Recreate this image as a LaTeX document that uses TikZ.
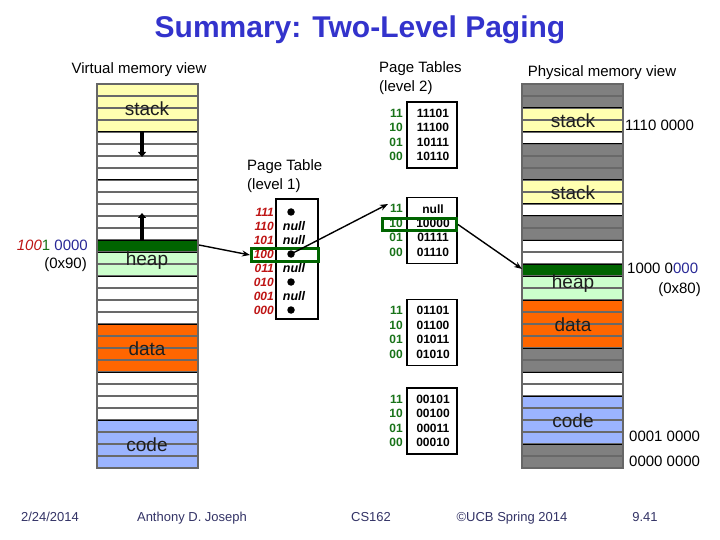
\documentclass[tikz,border=0pt]{standalone}
\usepackage{fontspec}
\setmainfont{Liberation Sans}
\usetikzlibrary{arrows.meta}
\definecolor{titleblue}{RGB}{51,51,204}
\definecolor{memyellow}{RGB}{255,255,176}
\definecolor{memltgreen}{RGB}{204,255,204}
\definecolor{memdkgreen}{RGB}{0,100,0}
\definecolor{memorange}{RGB}{255,102,0}
\definecolor{memblue}{RGB}{155,180,255}
\definecolor{memgray}{RGB}{128,128,128}
\definecolor{rowline}{RGB}{105,105,105}
\definecolor{lblgreen}{RGB}{25,115,25}
\definecolor{lblred}{RGB}{190,20,20}
\definecolor{offblue}{RGB}{40,40,150}
\definecolor{footcol}{RGB}{51,51,102}
\definecolor{segtext}{RGB}{30,30,30}
\tikzset{
  heading/.style={font=\fontsize{15}{18}\selectfont, inner sep=0, anchor=base},
  seglabel/.style={font=\fontsize{19}{19}\selectfont, text=segtext, inner sep=0},
  addr/.style={font=\fontsize{15}{15}\selectfont, inner sep=0},
  foot/.style={font=\fontsize{13}{13}\selectfont, text=footcol, inner sep=0, anchor=base},
  ptbox/.style={draw=black, line width=1.6, inner sep=0, minimum width=50, minimum height=66},
  ptentry/.style={font=\fontsize{12}{12}\selectfont\bfseries, inner sep=0},
  ptidx/.style={font=\fontsize{12}{12}\selectfont\bfseries, text=lblgreen, inner sep=0, anchor=east},
  l1idx/.style={font=\fontsize{12}{12}\selectfont\bfseries\itshape, text=lblred, inner sep=0, anchor=east},
  l1null/.style={font=\fontsize{12.5}{12}\selectfont\bfseries\itshape, inner sep=0},
  l1dot/.style={circle, fill=black, inner sep=0, minimum size=7.5},
  hilite/.style={draw=memdkgreen, line width=3, inner sep=0},
  conn/.style={draw=black, line width=1.4, -{Stealth[length=8,width=6]}},
  growarrow/.style={line width=4.5, -{Triangle[length=5,width=8]}},
}
\begin{document}
\begin{tikzpicture}[x=1pt,y=-1pt]
\useasboundingbox (0,0) rectangle (720,540);
\fill[white] (0,0) rectangle (720,540);

% Title
\node[font=\fontsize{30}{30}\selectfont\bfseries, text=titleblue, inner sep=0, anchor=base] (title) at (360,38) {Summary: Two-Level Paging};

% Headings
\node[heading] (hvirt) at (139,73.5) {Virtual memory view};
\node[heading, anchor=base west] (hpt2a) at (379,72.5) {Page Tables};
\node[heading, anchor=base west] (hpt2b) at (379,91.5) {(level 2)};
\node[heading] (hphys) at (602,77) {Physical memory view};
\node[heading, anchor=base west] (hpt1a) at (247,170.5) {Page Table};
\node[heading, anchor=base west] (hpt1b) at (247,189.5) {(level 1)};

% ---------- Virtual memory column ----------
\foreach \a/\b/\c in {0/3/memyellow,4/12/white,13/13/memdkgreen,14/15/memltgreen,16/19/white,20/23/memorange,24/27/white,28/31/memblue}{
  \fill[\c] (97,{84+12*\a}) rectangle (198,{84+12*(\b+1)});
}
\foreach \r in {1,...,31}{
  \draw[rowline, line width=1.4] (97,{84+12*\r}) -- (198,{84+12*\r});
}
\foreach \r in {4,8,13,14,16,20,24,28}{
  \draw[black, line width=1] (97,{84+12*\r}) -- (198,{84+12*\r});
}
\draw[memgray!80!black, line width=1.6] (97,84) rectangle (198,468);
\node[seglabel] (vstack) at (147,108.5) {stack};
\node[seglabel] (vheap) at (147,260.5) {heap};
\node[seglabel] (vdata) at (147,348.5) {data};
\node[seglabel] (vcode) at (147,444.5) {code};
\draw[growarrow] (142,132) -- (142,157);
\draw[growarrow] (142,240) -- (142,213);
\coordinate (vdg) at (199,245);

\node[addr, anchor=east] (vaddr) at (88,245) {\textcolor{lblred}{\itshape 100}\textcolor{lblgreen}{1} \textcolor{offblue}{0000}};
\node[addr, anchor=east] (vhex) at (87,265) {(0x90)};

% ---------- Level-1 page table ----------
\node[draw=black, line width=1.6, inner sep=0, minimum width=42, minimum height=120] (l1) at (297,259) {};
\foreach \lab [count=\i from 0] in {111,110,101,100,011,010,001,000}{
  \node[l1idx] (l1i\lab) at (274,{212+14*\i}) {\lab};
}
\node[l1dot] (d111) at (291,212) {};
\node[l1null] (n110) at (294,226) {null};
\node[l1null] (n101) at (294,240) {null};
\node[l1dot] (d100) at (291,254) {};
\node[l1null] (n011) at (294,268) {null};
\node[l1dot] (d010) at (291,282) {};
\node[l1null] (n001) at (294,296) {null};
\node[l1dot] (d000) at (291,310) {};
\node[hilite, minimum width=67, minimum height=13] (l1hl) at (285,255) {};

% ---------- Level-2 page tables ----------
\foreach \c/\n/\ea/\eb/\ec/\ed in {135/A/11101/11100/10111/10110, 230.5/B/null/10000/01111/01110, 332.5/C/01101/01100/01011/01010, 421/D/00101/00100/00011/00010}{
  \node[ptbox] (pt\n) at (432,\c) {};
  \node[ptidx] (pt\n i11) at (403,{\c-21.75}) {11};
  \node[ptidx] (pt\n i10) at (403,{\c-7.25}) {10};
  \node[ptidx] (pt\n i01) at (403,{\c+7.25}) {01};
  \node[ptidx] (pt\n i00) at (403,{\c+21.75}) {00};
  \node[ptentry] (pt\n e11) at (433,{\c-21.75}) {\ea};
  \node[ptentry] (pt\n e10) at (433,{\c-7.25}) {\eb};
  \node[ptentry] (pt\n e01) at (433,{\c+7.25}) {\ec};
  \node[ptentry] (pt\n e00) at (433,{\c+21.75}) {\ed};
}
\node[hilite, minimum width=74, minimum height=12] (l2hl) at (419.5,224.5) {};
\coordinate (l2tip) at (388,204);

% ---------- Physical memory column ----------
\foreach \a/\b/\c in {0/1/memgray,2/3/memyellow,4/4/white,5/7/memgray,8/9/memyellow,10/10/white,11/12/memgray,13/14/white,15/15/memdkgreen,16/17/memltgreen,18/21/memorange,22/23/memgray,24/25/white,26/29/memblue,30/31/memgray}{
  \fill[\c] (522,{84+12*\a}) rectangle (623,{84+12*(\b+1)});
}
\foreach \r in {1,...,31}{
  \draw[rowline, line width=1.4] (522,{84+12*\r}) -- (623,{84+12*\r});
}
\foreach \r in {2,4,5,8,10,11,13,15,16,18,22,24,26,30}{
  \draw[black, line width=1] (522,{84+12*\r}) -- (623,{84+12*\r});
}
\draw[memgray!80!black, line width=1.6] (522,84) rectangle (623,468);
\node[seglabel] (pstack1) at (573,120.5) {stack};
\node[seglabel] (pstack2) at (573,192.5) {stack};
\node[seglabel] (pheap) at (573,283.5) {heap};
\node[seglabel] (pdata) at (573,324.5) {data};
\node[seglabel] (pcode) at (573,420.5) {code};
\coordinate (pdg) at (522,269);

\node[addr, anchor=west] (pa1) at (625,125) {1110 0000};
\node[addr, anchor=west] (pa2) at (627,268) {1000 0\textcolor{offblue}{000}};
\node[addr, anchor=east] (pa2h) at (701,290) {(0x80)};
\node[addr, anchor=west] (pa3) at (629,436) {0001 0000};
\node[addr, anchor=west] (pa4) at (629,461) {0000 0000};

% ---------- Connectors ----------
\draw[conn] (vdg) -- (l1hl.west);
\draw[conn] (d100.center) -- (l2tip);
\draw[conn] (l2hl.east) -- (pdg);

% ---------- Footer ----------
\node[foot] (f1) at (50,521) {2/24/2014};
\node[foot] (f2) at (192,521) {Anthony D. Joseph};
\node[foot] (f3) at (371,521) {CS162};
\node[foot] (f4) at (512,521) {©UCB Spring 2014};
\node[foot] (f5) at (645,521) {9.41};
\end{tikzpicture}
\end{document}
